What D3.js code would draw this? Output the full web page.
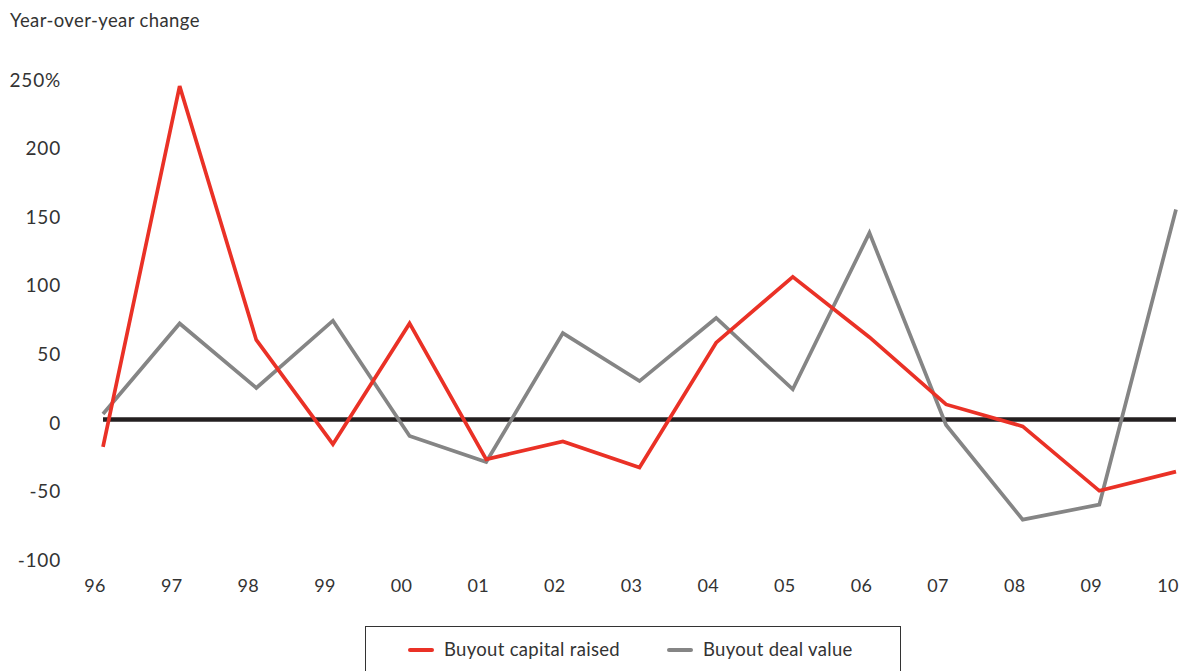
<!DOCTYPE html>
<html>
<head>
<meta charset="utf-8">
<script src="https://cdn.jsdelivr.net/npm/d3@7"></script>
<style>
  body { margin: 0; background: #fff; }
  svg text { font-family: Lato, "Open Sans", sans-serif; fill: #333; }
</style>
</head>
<body>
<div id="chart"></div>
<script>
// data
const years = ['96', '97', '98', '99', '00', '01', '02', '03', '04', '05', '06', '07', '08', '09', '10'];
const capitalRaised = [-20, 243, 58, -18, 70, -29, -16, -35, 56, 104, 60, 11, -5, -52, -38];
const dealValue = [4, 70, 23, 72, -12, -31, 63, 28, 74, 22, 136, -4, -73, -62, 153];
const yTicks = [-100, -50, 0, 50, 100, 150, 200, 250];
const seriesNames = ['Buyout capital raised', 'Buyout deal value'];
const seriesColors = ['#ea3126', '#858585'];

const width = 1185, height = 671;
const svg = d3.select('#chart').append('svg')
    .attr('width', width)
    .attr('height', height);

const x = d3.scalePoint()
    .domain(years)
    .range([103, 1176]);

const y = d3.scaleLinear()
    .domain([-100, 250])
    .range([556.7, 76.5]);

// title
svg.append('text')
    .attr('x', 10)
    .attr('y', 27)
    .attr('font-size', 18.5)
    .attr('letter-spacing', 0.4)
    .text('Year-over-year change');

// y axis labels
const yAxis = svg.append('g')
    .attr('transform', 'translate(61,0)')
    .call(d3.axisLeft(y).tickValues(yTicks).tickSize(0).tickPadding(0)
        .tickFormat((d) => d === 250 ? '250%' : d));
yAxis.select('.domain').remove();
yAxis.selectAll('text')
    .attr('font-size', 19)
    .attr('font-family', null)
    .attr('letter-spacing', 0.8)
    .attr('dy', '0.32em')
    .attr('y', 3.5);

// x axis labels
const xAxis = svg.append('g')
    .attr('transform', 'translate(0,579)')
    .call(d3.axisBottom(x).tickSize(0).tickPadding(0));
xAxis.select('.domain').remove();
xAxis.selectAll('text')
    .attr('font-size', 18)
    .attr('font-family', null)
    .attr('letter-spacing', 0.3)
    .attr('x', -8.5);

// zero line
svg.append('line')
    .attr('x1', x('96'))
    .attr('x2', x('10'))
    .attr('y1', y(0))
    .attr('y2', y(0))
    .attr('stroke', '#231f20')
    .attr('stroke-width', 4.5);

const line = d3.line()
    .x((d, i) => x(years[i]))
    .y((d) => y(d));

svg.append('path')
    .datum(dealValue)
    .attr('d', line)
    .attr('fill', 'none')
    .attr('stroke', seriesColors[1])
    .attr('stroke-width', 3.7);

svg.append('path')
    .datum(capitalRaised)
    .attr('d', line)
    .attr('fill', 'none')
    .attr('stroke', seriesColors[0])
    .attr('stroke-width', 3.7);

// legend
const legend = svg.append('g');
legend.append('rect')
    .attr('x', 365.5)
    .attr('y', 626.5)
    .attr('width', 535)
    .attr('height', 60)
    .attr('fill', 'none')
    .attr('stroke', '#333')
    .attr('stroke-width', 1);

const legendX = [410, 669];
seriesNames.forEach((name, i) => {
    legend.append('line')
        .attr('x1', legendX[i])
        .attr('x2', legendX[i] + 22)
        .attr('y1', 650)
        .attr('y2', 650)
        .attr('stroke', seriesColors[i])
        .attr('stroke-width', 4)
        .attr('stroke-linecap', 'round');
    legend.append('text')
        .attr('x', legendX[i] + 34)
        .attr('y', 650)
        .attr('dy', '0.35em')
        .attr('font-size', 18.5)
        .attr('letter-spacing', 0.3)
        .text(name);
});
</script>
</body>
</html>
